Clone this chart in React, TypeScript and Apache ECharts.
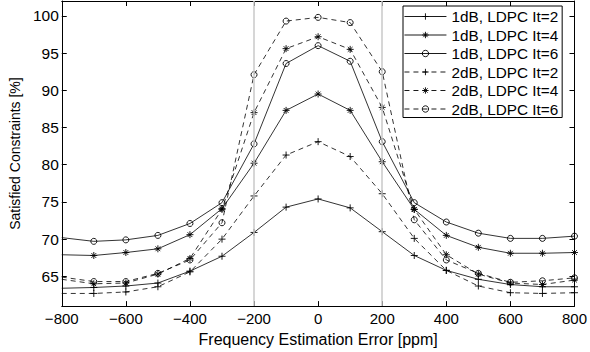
import React, { useEffect, useRef } from "react";
import * as echarts from "echarts";

const xs = [-800, -700, -600, -500, -400, -300, -200, -100, 0, 100, 200, 300, 400, 500, 600, 700, 800];

const seriesNames = [
  "1dB, LDPC It=2",
  "1dB, LDPC It=4",
  "1dB, LDPC It=6",
  "2dB, LDPC It=2",
  "2dB, LDPC It=4",
  "2dB, LDPC It=6",
];

const db1It2 = [63.4, 63.5, 63.7, 64.1, 65.7, 67.7, 70.9, 74.3, 75.4, 74.2, 71.0, 67.8, 65.8, 64.6, 63.9, 63.6, 63.6];
const db1It4 = [67.9, 67.8, 68.2, 68.7, 70.6, 74.1, 80.2, 87.3, 89.5, 87.3, 80.4, 74.0, 70.5, 68.9, 68.1, 68.1, 68.2];
const db1It6 = [70.2, 69.7, 69.9, 70.5, 72.1, 74.9, 82.8, 93.6, 96.0, 93.9, 83.1, 74.9, 72.3, 70.8, 70.1, 70.1, 70.4];
const db2It2 = [62.7, 62.7, 62.9, 63.6, 65.6, 70.0, 75.8, 81.3, 83.1, 81.1, 76.1, 70.1, 65.8, 63.7, 62.8, 62.7, 62.8];
const db2It4 = [64.6, 64.0, 64.1, 65.3, 67.4, 74.0, 87.0, 95.6, 97.2, 95.5, 87.7, 74.0, 67.9, 65.3, 64.1, 63.9, 64.5];
const db2It6 = [64.9, 64.3, 64.3, 65.4, 67.2, 72.2, 92.1, 99.3, 99.8, 99.1, 92.5, 72.6, 67.2, 65.4, 64.2, 64.4, 64.8];

const yTicks = [65, 70, 75, 80, 85, 90, 95, 100];
const refLines = [-200, 200];

const PLUS = "path://M5,0L5,10M0,5L10,5";
const STAR = "path://M5,0L5,10M0,5L10,5M1.6,1.6L8.4,8.4M1.6,8.4L8.4,1.6";

const FONT = "Liberation Sans";

export default function App() {
  const ref = useRef<HTMLDivElement>(null);
  useEffect(() => {
    if (!ref.current) return;
    const chart = echarts.init(ref.current, undefined, { renderer: "svg" });
    const values = [db1It2, db1It4, db1It6, db2It2, db2It4, db2It6];
    const symbols = [PLUS, STAR, "circle", PLUS, STAR, "circle"];
    const sizes = [7, 7, 6, 7, 7, 6];
    const lineTypes: any[] = ["solid", "solid", "solid", [5, 4], [5, 4], [5, 4]];
    const itemStyle = { color: "rgba(0,0,0,0)", borderColor: "#000", borderWidth: 0.9 };
    const series: any[] = values.map((vals, i) => ({
      name: seriesNames[i],
      type: "line",
      xAxisIndex: 0,
      yAxisIndex: 0,
      z: 3,
      clip: false,
      showAllSymbol: true,
      symbol: symbols[i],
      symbolSize: sizes[i],
      data: xs.map((x, j) => (j === 0 ? { value: [x, vals[j]], symbol: "none" } : [x, vals[j]])),
      lineStyle: { color: "#000", width: 0.8, type: lineTypes[i] },
      itemStyle,
      emphasis: { disabled: true },
    }));
    series.push({
      type: "line",
      name: "ref",
      xAxisIndex: 0,
      yAxisIndex: 0,
      z: 1,
      data: [],
      markLine: {
        silent: true,
        symbol: "none",
        label: { show: false },
        lineStyle: { color: "#c8c8c8", type: "solid", width: 1.5 },
        data: refLines.map((v) => ({ xAxis: v })),
      },
    });
    const axisCommon = {
      axisLine: { show: true, onZero: false, lineStyle: { color: "#000", width: 1 } },
      splitLine: { show: false },
    };
    chart.setOption({
      animation: false,
      backgroundColor: "#fff",
      grid: { left: 61, right: 12, top: 1, bottom: 42, containLabel: false },
      legend: {
        data: seriesNames.map((n, i) => ({
          name: n,
          lineStyle: { color: "#000", width: 0.9, type: lineTypes[i] },
          itemStyle: { ...itemStyle },
        })),
        orient: "vertical",
        left: 403,
        top: 6,
        padding: [3, 4, 1, 1],
        itemWidth: 42,
        itemHeight: 8,
        itemGap: 3.5,
        backgroundColor: "#fff",
        borderColor: "#000",
        borderWidth: 1,
        borderRadius: 0,
        textStyle: { fontFamily: FONT, fontSize: 15.3, color: "#000", lineHeight: 14 },
      },
      xAxis: [
        {
          type: "value",
          min: -800,
          max: 800,
          interval: 200,
          position: "bottom",
          ...axisCommon,
          axisTick: { show: true, inside: true, length: 5, lineStyle: { color: "#000" } },
          axisLabel: {
            color: "#000",
            fontFamily: FONT,
            fontSize: 15,
            margin: 5,
            formatter: (v: number) => String(v).replace("-", "\u2212"),
          },
          name: "Frequency Estimation Error [ppm]",
          nameLocation: "middle",
          nameGap: 17,
          nameTextStyle: { color: "#000", fontFamily: FONT, fontSize: 16 },
        },
        {
          type: "value",
          min: -800,
          max: 800,
          interval: 200,
          position: "top",
          ...axisCommon,
          axisTick: { show: true, inside: true, length: 5, lineStyle: { color: "#000" } },
          axisLabel: { show: false },
        },
      ],
      yAxis: [
        {
          type: "value",
          min: 61,
          max: 102,
          position: "left",
          ...axisCommon,
          axisTick: { show: true, inside: true, length: 5, customValues: yTicks, lineStyle: { color: "#000" } },
          axisLabel: { color: "#000", fontFamily: FONT, fontSize: 15.5, margin: 3, customValues: yTicks },
          name: "Satisfied Constraints [%]",
          nameLocation: "middle",
          nameGap: 38,
          nameTextStyle: { color: "#000", fontFamily: FONT, fontSize: 14 },
        },
        {
          type: "value",
          min: 61,
          max: 102,
          position: "right",
          ...axisCommon,
          axisTick: { show: true, inside: true, length: 5, customValues: yTicks, lineStyle: { color: "#000" } },
          axisLabel: { show: false, customValues: yTicks },
        },
      ],
      series,
    });
    return () => chart.dispose();
  }, []);
  return (
    <div
      ref={ref}
      style={{ position: "absolute", left: 0, top: 0, width: 590, height: 352 }}
    />
  );
}
